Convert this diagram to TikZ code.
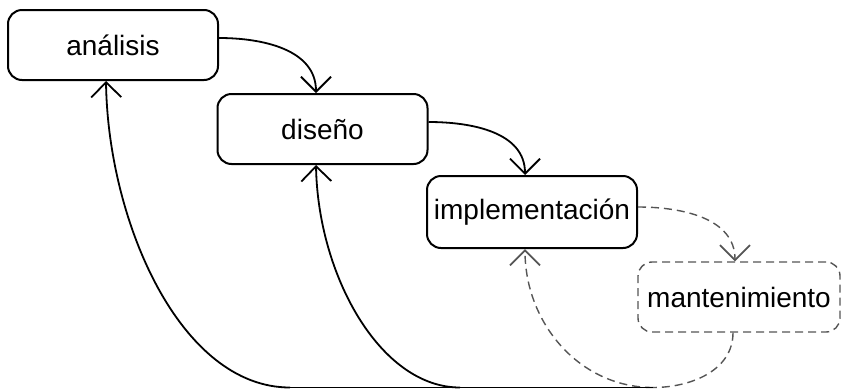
\documentclass[tikz,border=0pt]{standalone}
\usepackage{fontspec}
\setmainfont{Liberation Sans}
\usetikzlibrary{arrows.meta}
\definecolor{dgray}{HTML}{555555}
\begin{document}
\begin{tikzpicture}[x=1pt,y=1pt,
  phase/.style={draw, line width=2pt, rounded corners=14pt, minimum width=210pt,
    minimum height=70pt, inner sep=0pt, font=\fontsize{28}{33}\selectfont},
  dphase/.style={phase, draw=dgray, line width=1.4pt, dash pattern=on 8pt off 5pt},
  tip/.style={-{Straight Barb[length=15pt,width=30pt,line width=1.8pt]}},
  flow/.style={line width=1.8pt},
  dflow/.style={line width=1.4pt, draw=dgray, dash pattern=on 8pt off 5pt}]
\useasboundingbox (0,0) rectangle (841,-389);
\node[phase] (ana) at (113,-45) {análisis};
\node[phase] (dis) at (322.5,-129) {diseño};
\node[phase, minimum height=72pt] (imp) at (532,-212) {implementación};
\node[dphase, minimum width=202pt] (man) at (739,-297) {mantenimiento};
\coordinate (J) at (653,-387.5);
\coordinate (A1) at (290,-387.5);
\coordinate (D1) at (460,-387.5);
% forward flow
\draw[flow, tip] ([yshift=7pt]ana.east) to[out=0,in=90] ([xshift=-6.5pt]dis.north);
\draw[flow, tip] ([yshift=7pt]dis.east) to[out=0,in=90] ([xshift=-7pt]imp.north);
\draw[dflow, tip] ([yshift=5pt]imp.east) to[out=0,in=90] ([xshift=-4pt]man.north);
% feedback
\draw[dflow] ([xshift=-6pt]man.south) to[out=-90,in=0] (J);
\draw[dflow, tip] (J) to[out=180,in=-90] ([xshift=-7pt]imp.south);
\draw[flow] (J) -- (A1);
\draw[flow, tip] (A1) .. controls +(-110,0) and +(2,-140) .. ([xshift=-7pt]ana.south);
\draw[flow, tip] (D1) .. controls +(-80,0) and +(2,-110) .. ([xshift=-6.5pt]dis.south);
\end{tikzpicture}
\end{document}
